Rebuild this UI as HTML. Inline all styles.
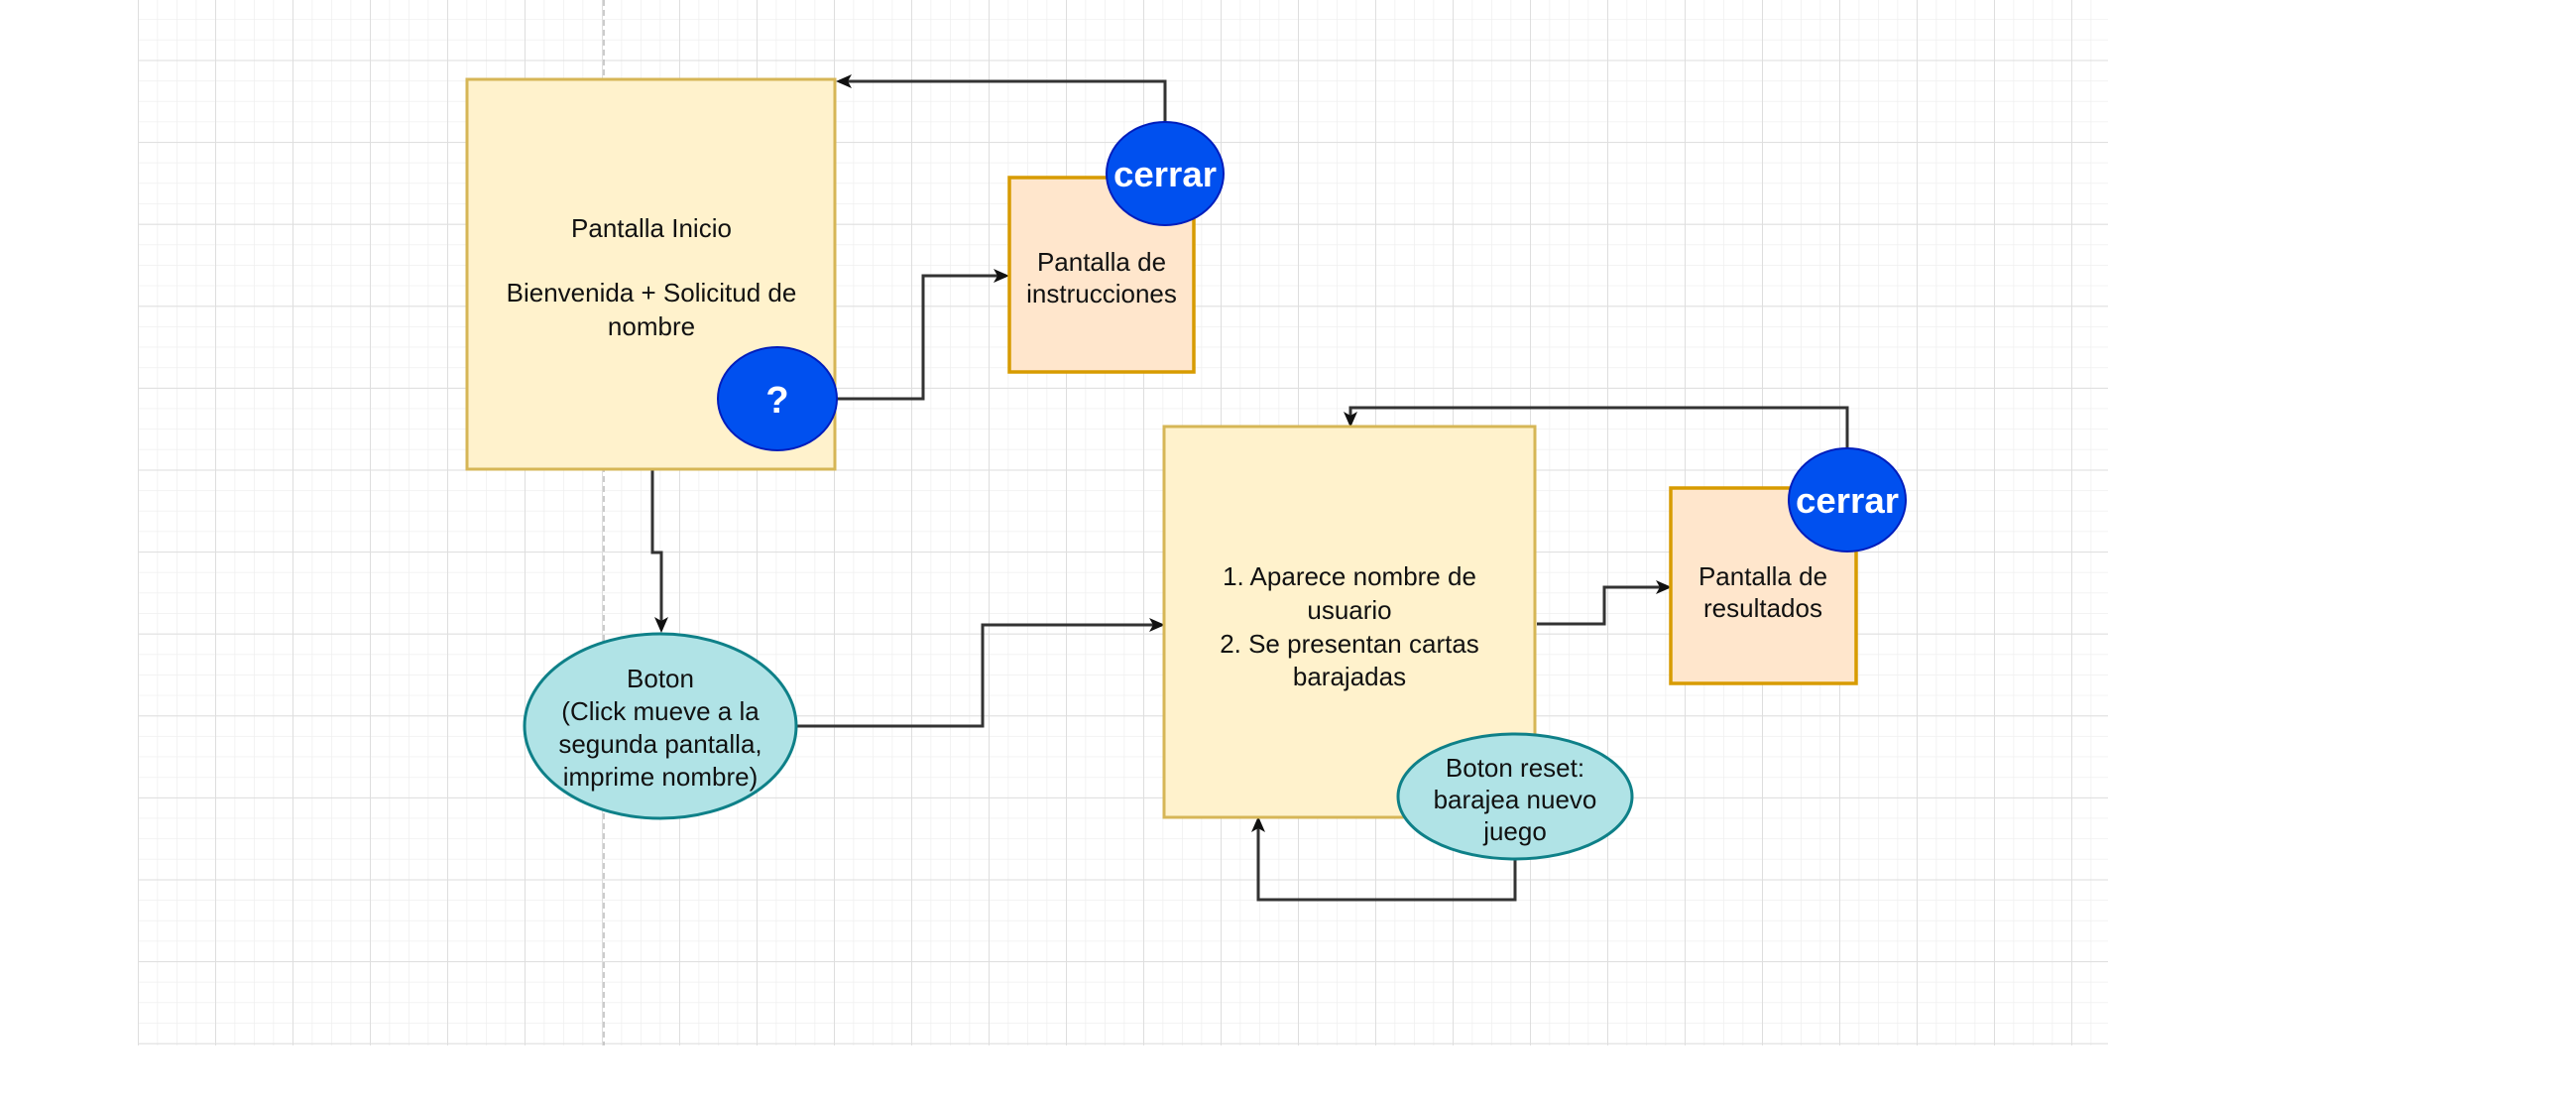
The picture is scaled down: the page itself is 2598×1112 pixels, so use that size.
<!DOCTYPE html>
<html><head><meta charset="utf-8"><style>html,body{margin:0;padding:0;background:#fff}svg{display:block}</style></head>
<body>
<svg width="2598" height="1112" viewBox="0 0 2598 1112" xmlns="http://www.w3.org/2000/svg" font-family="Liberation Sans, Arial, sans-serif">
<defs>
<pattern id="mn" x="139" y="60.5" width="19.5" height="20.65" patternUnits="userSpaceOnUse">
<path d="M0 0V20.65M0 0H19.5" stroke="#efefef" stroke-width="1.5" fill="none"/></pattern>
<pattern id="mj" x="139" y="60.5" width="78" height="82.6" patternUnits="userSpaceOnUse">
<path d="M0 0V82.6M0 0H78" stroke="#dedede" stroke-width="2" fill="none"/></pattern>
<marker id="ar" markerWidth="16" markerHeight="16" refX="13" refY="8" orient="auto" markerUnits="userSpaceOnUse" viewBox="0 0 16 16"><path d="M0 1L16 8L0 15L4 8Z" fill="#111"/></marker>
</defs>
<rect x="139" y="0" width="1987" height="1054" fill="url(#mn)"/>
<rect x="139" y="0" width="1987" height="1054" fill="url(#mj)"/>
<line x1="609" y1="0" x2="609" y2="1054" stroke="#bbb" stroke-width="1.5" stroke-dasharray="6,4"/>

<g fill="none" stroke="#333" stroke-width="3">
<path d="M1175 123V82H846" marker-end="url(#ar)"/>
<path d="M844 402H931V278H1015" marker-end="url(#ar)"/>
<path d="M658 473V557H667V635" marker-end="url(#ar)"/>
<path d="M803 732H991V630H1172" marker-end="url(#ar)"/>
<path d="M1863 452V411H1362V428" marker-end="url(#ar)"/>
<path d="M1550 629H1618V592H1683" marker-end="url(#ar)"/>
<path d="M1528 866V907H1269V826" marker-end="url(#ar)"/>
</g>

<rect x="471" y="80" width="371" height="393" fill="#fff2cc" stroke="#d6b656" stroke-width="3"/>
<g font-size="26" fill="#111" text-anchor="middle">
<text x="657" y="239">Pantalla Inicio</text>
<text x="657" y="304">Bienvenida + Solicitud de</text>
<text x="657" y="338">nombre</text>
</g>
<ellipse cx="784" cy="402" rx="60" ry="52" fill="#0050ef" stroke="#001dbc" stroke-width="2"/>
<text x="784" y="416" font-size="38" font-weight="bold" fill="#fff" text-anchor="middle">?</text>

<rect x="1018" y="179" width="186" height="196" fill="#ffe6cc" stroke="#d79b00" stroke-width="3.5"/>
<g font-size="26" fill="#111" text-anchor="middle">
<text x="1111" y="273">Pantalla de</text>
<text x="1111" y="305">instrucciones</text>
</g>
<ellipse cx="1175" cy="175" rx="59" ry="52" fill="#0050ef" stroke="#001dbc" stroke-width="2"/>
<text x="1175" y="188" font-size="36" font-weight="bold" fill="#fff" text-anchor="middle" textLength="104" lengthAdjust="spacingAndGlyphs">cerrar</text>

<ellipse cx="666" cy="732" rx="137" ry="93" fill="#b0e3e6" stroke="#0e8088" stroke-width="3"/>
<g font-size="26" fill="#111" text-anchor="middle">
<text x="666" y="693">Boton</text>
<text x="666" y="726">(Click mueve a la</text>
<text x="666" y="759">segunda pantalla,</text>
<text x="666" y="792">imprime nombre)</text>
</g>

<rect x="1174" y="430" width="374" height="394" fill="#fff2cc" stroke="#d6b656" stroke-width="3"/>
<g font-size="26" fill="#111" text-anchor="middle">
<text x="1361" y="590">1. Aparece nombre de</text>
<text x="1361" y="624">usuario</text>
<text x="1361" y="658">2. Se presentan cartas</text>
<text x="1361" y="691">barajadas</text>
</g>

<rect x="1685" y="492" width="187" height="197" fill="#ffe6cc" stroke="#d79b00" stroke-width="3.5"/>
<g font-size="26" fill="#111" text-anchor="middle">
<text x="1778" y="590">Pantalla de</text>
<text x="1778" y="622">resultados</text>
</g>
<ellipse cx="1863" cy="504" rx="59" ry="52" fill="#0050ef" stroke="#001dbc" stroke-width="2"/>
<text x="1863" y="517" font-size="36" font-weight="bold" fill="#fff" text-anchor="middle" textLength="104" lengthAdjust="spacingAndGlyphs">cerrar</text>

<ellipse cx="1528" cy="803" rx="118" ry="63" fill="#b0e3e6" stroke="#0e8088" stroke-width="3"/>
<g font-size="26" fill="#111" text-anchor="middle">
<text x="1528" y="783">Boton reset:</text>
<text x="1528" y="815">barajea nuevo</text>
<text x="1528" y="847">juego</text>
</g>
</svg>
</body></html>
